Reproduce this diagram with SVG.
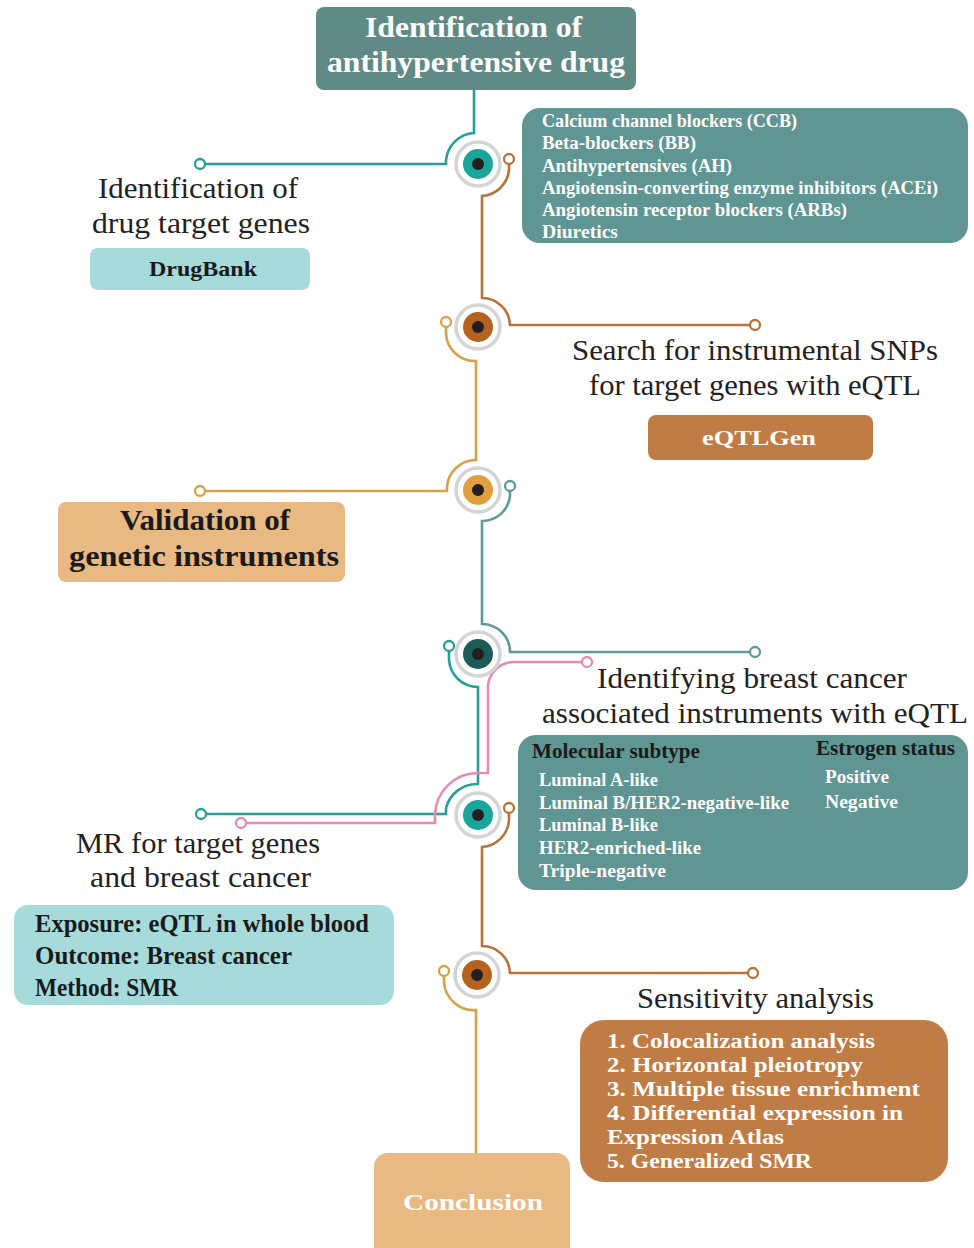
<svg xmlns="http://www.w3.org/2000/svg" width="974" height="1248" viewBox="0 0 974 1248">
<style>
.lbl{font-family:"Liberation Serif",serif;font-size:29.5px;fill:#222;}
.bw{font-family:"Liberation Serif",serif;font-weight:bold;fill:#fff;}
.bd{font-family:"Liberation Serif",serif;font-weight:bold;fill:#1a1a1a;}
.ln{fill:none;stroke-width:2.6;}
.dot{fill:#fff;stroke-width:2.3;}
.ring{fill:#fff;stroke:#d4d4d4;stroke-width:3.5;}
.core{fill:#231f20;}
.teal{stroke:#23a097;}
.brown{stroke:#b8733a;}
.orange{stroke:#d9a04a;}
.gteal{stroke:#5f9a99;}
.pink{stroke:#e48db4;}
</style>
<rect width="974" height="1248" fill="#fff"/>

<g id="connectors">
  <path class="ln teal" d="M205,164 H446 V160 A30 30 0 0 1 474,133 V90"/>
  <path class="ln brown" d="M509,164 V170 A29 29 0 0 1 482,196 V298 A28 28 0 0 1 510,325 H750"/>
  <path class="ln orange" d="M446,327 V333 A29 29 0 0 0 476,361 V460 A29 29 0 0 0 447,487 V491 H205"/>
  <path class="ln gteal" d="M510,491 V496 A28 28 0 0 1 482,521 V624 A28 28 0 0 1 510,652 H750"/>
  <path class="ln teal" d="M449,651 V660 A29 29 0 0 0 478,687 V784 A32 32 0 0 0 446,808 V814 H206"/>
  <path class="ln pink" d="M582,662 H512 A26 26 0 0 0 488,686 V773 H478 A43 43 0 0 0 435,814 V823 H246"/>
  <path class="ln brown" d="M509,813 V820 A29 29 0 0 1 482,847 V946 A28 28 0 0 1 510,973 H748"/>
  <path class="ln orange" d="M444,976 V982 A30 30 0 0 0 476,1010 V1155"/>
  <circle class="dot teal" cx="200" cy="164" r="5"/>
  <circle class="dot brown" cx="509" cy="159" r="5"/>
  <circle class="dot brown" cx="755" cy="325" r="5"/>
  <circle class="dot orange" cx="446" cy="322" r="5"/>
  <circle class="dot orange" cx="200" cy="491" r="5"/>
  <circle class="dot gteal" cx="510" cy="486" r="5"/>
  <circle class="dot gteal" cx="755" cy="652" r="5"/>
  <circle class="dot teal" cx="449" cy="646" r="5"/>
  <circle class="dot pink" cx="587" cy="662" r="5"/>
  <circle class="dot teal" cx="201" cy="814" r="5"/>
  <circle class="dot pink" cx="241" cy="823" r="5"/>
  <circle class="dot brown" cx="509" cy="808" r="5"/>
  <circle class="dot brown" cx="753" cy="973" r="5"/>
  <circle class="dot orange" cx="444" cy="971" r="5"/>
</g>

<g id="hub1"><circle class="ring" cx="478" cy="164" r="22"/><circle cx="478" cy="164" r="15" fill="#1aa59a"/><circle class="core" cx="478" cy="164" r="6"/></g>
<g id="hub2"><circle class="ring" cx="478" cy="327" r="22"/><circle cx="478" cy="327" r="15" fill="#b5621f"/><circle class="core" cx="478" cy="327" r="6"/></g>
<g id="hub3"><circle class="ring" cx="478" cy="490" r="22"/><circle cx="478" cy="490" r="15" fill="#e0a040"/><circle class="core" cx="478" cy="490" r="6"/></g>
<g id="hub4"><circle class="ring" cx="478" cy="654" r="22"/><circle cx="478" cy="654" r="15" fill="#1d5c56"/><circle class="core" cx="478" cy="654" r="6"/></g>
<g id="hub5"><circle class="ring" cx="478" cy="815" r="22"/><circle cx="478" cy="815" r="15" fill="#1aa59a"/><circle class="core" cx="478" cy="815" r="6"/></g>
<g id="hub6"><circle class="ring" cx="477" cy="975" r="22"/><circle cx="477" cy="975" r="15" fill="#b5621f"/><circle class="core" cx="477" cy="975" r="6"/></g>

<g id="title">
  <rect x="316" y="7" width="320" height="83" rx="8" fill="#5f8a85"/>
  <text class="bw" x="365" y="37" font-size="30" textLength="217" lengthAdjust="spacingAndGlyphs">Identification of</text>
  <text class="bw" x="327" y="72" font-size="30" textLength="298" lengthAdjust="spacingAndGlyphs">antihypertensive drug</text>
</g>

<g id="drug-classes">
  <rect x="522" y="108" width="446" height="135" rx="18" fill="#5f9592"/>
  <g class="bw" font-size="18">
    <text x="542" y="127" textLength="255" lengthAdjust="spacingAndGlyphs">Calcium channel blockers (CCB)</text>
    <text x="542" y="149" textLength="154" lengthAdjust="spacingAndGlyphs">Beta-blockers (BB)</text>
    <text x="542" y="172" textLength="190" lengthAdjust="spacingAndGlyphs">Antihypertensives (AH)</text>
    <text x="542" y="194" textLength="396" lengthAdjust="spacingAndGlyphs">Angiotensin-converting enzyme inhibitors (ACEi)</text>
    <text x="542" y="216" textLength="305" lengthAdjust="spacingAndGlyphs">Angiotensin receptor blockers (ARBs)</text>
    <text x="542" y="238" textLength="76" lengthAdjust="spacingAndGlyphs">Diuretics</text>
  </g>
</g>

<g id="target-genes">
  <text class="lbl" x="98" y="198" textLength="200" lengthAdjust="spacingAndGlyphs">Identification of</text>
  <text class="lbl" x="92" y="233" textLength="218" lengthAdjust="spacingAndGlyphs">drug target genes</text>
  <rect x="90" y="248" width="220" height="42" rx="8" fill="#a7dadb"/>
  <text class="bd" x="149" y="276" font-size="21" textLength="108" lengthAdjust="spacingAndGlyphs">DrugBank</text>
</g>

<g id="snp-search">
  <text class="lbl" x="572" y="360" textLength="366" lengthAdjust="spacingAndGlyphs">Search for instrumental SNPs</text>
  <text class="lbl" x="589" y="395" textLength="332" lengthAdjust="spacingAndGlyphs">for target genes with eQTL</text>
  <rect x="648" y="415" width="225" height="45" rx="8" fill="#c07c45"/>
  <text class="bw" x="702" y="445" font-size="22" textLength="114" lengthAdjust="spacingAndGlyphs">eQTLGen</text>
</g>

<g id="validation">
  <rect x="58" y="502" width="287" height="80" rx="8" fill="#e9b983"/>
  <text class="bd" x="120" y="530" font-size="30" textLength="170" lengthAdjust="spacingAndGlyphs">Validation of</text>
  <text class="bd" x="69" y="566" font-size="30" textLength="270" lengthAdjust="spacingAndGlyphs">genetic instruments</text>
</g>

<g id="breast-cancer-instruments">
  <text class="lbl" x="597" y="688" textLength="310" lengthAdjust="spacingAndGlyphs">Identifying breast cancer</text>
  <text class="lbl" x="542" y="723" textLength="426" lengthAdjust="spacingAndGlyphs">associated instruments with eQTL</text>
  <rect x="518" y="735" width="450" height="155" rx="18" fill="#5f9592"/>
  <text class="bd" x="532" y="758" font-size="21" fill="#111" textLength="168" lengthAdjust="spacingAndGlyphs">Molecular subtype</text>
  <text class="bd" x="816" y="755" font-size="21" fill="#111" textLength="139" lengthAdjust="spacingAndGlyphs">Estrogen status</text>
  <g class="bw" font-size="18">
    <text x="539" y="786" textLength="119" lengthAdjust="spacingAndGlyphs">Luminal A-like</text>
    <text x="539" y="809" textLength="250" lengthAdjust="spacingAndGlyphs">Luminal B/HER2-negative-like</text>
    <text x="539" y="831" textLength="119" lengthAdjust="spacingAndGlyphs">Luminal B-like</text>
    <text x="539" y="854" textLength="162" lengthAdjust="spacingAndGlyphs">HER2-enriched-like</text>
    <text x="539" y="877" textLength="127" lengthAdjust="spacingAndGlyphs">Triple-negative</text>
    <text x="825" y="783" textLength="64" lengthAdjust="spacingAndGlyphs">Positive</text>
    <text x="825" y="808" textLength="73" lengthAdjust="spacingAndGlyphs">Negative</text>
  </g>
</g>

<g id="mr">
  <text class="lbl" x="76" y="853" textLength="244" lengthAdjust="spacingAndGlyphs">MR for target genes</text>
  <text class="lbl" x="90" y="887" textLength="221" lengthAdjust="spacingAndGlyphs">and breast cancer</text>
  <rect x="14" y="905" width="380" height="100" rx="14" fill="#a7dadb"/>
  <g class="bd" font-size="25">
    <text x="35" y="932" textLength="334" lengthAdjust="spacingAndGlyphs">Exposure: eQTL in whole blood</text>
    <text x="35" y="964" textLength="257" lengthAdjust="spacingAndGlyphs">Outcome: Breast cancer</text>
    <text x="35" y="996" textLength="143" lengthAdjust="spacingAndGlyphs">Method: SMR</text>
  </g>
</g>

<g id="sensitivity">
  <text class="lbl" x="637" y="1008" textLength="237" lengthAdjust="spacingAndGlyphs">Sensitivity analysis</text>
  <rect x="580" y="1020" width="368" height="162" rx="24" fill="#c07c45"/>
  <g class="bw" font-size="21.5">
    <text x="607" y="1048" textLength="268" lengthAdjust="spacingAndGlyphs">1. Colocalization analysis</text>
    <text x="607" y="1072" textLength="256" lengthAdjust="spacingAndGlyphs">2. Horizontal pleiotropy</text>
    <text x="607" y="1096" textLength="313" lengthAdjust="spacingAndGlyphs">3. Multiple tissue enrichment</text>
    <text x="607" y="1120" textLength="296" lengthAdjust="spacingAndGlyphs">4. Differential expression in</text>
    <text x="607" y="1144" textLength="177" lengthAdjust="spacingAndGlyphs">Expression Atlas</text>
    <text x="607" y="1168" textLength="205" lengthAdjust="spacingAndGlyphs">5. Generalized SMR</text>
  </g>
</g>

<g id="conclusion">
  <rect x="374" y="1153" width="196" height="110" rx="14" fill="#e8b983"/>
  <text class="bw" x="403" y="1210" font-size="24" textLength="140" lengthAdjust="spacingAndGlyphs">Conclusion</text>
</g>
</svg>
